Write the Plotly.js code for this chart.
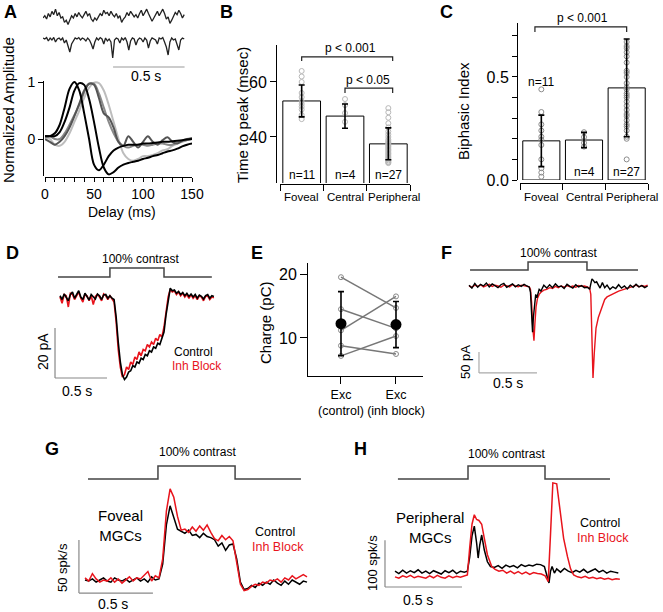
<!DOCTYPE html>
<html><head><meta charset="utf-8">
<script src="https://cdn.plot.ly/plotly-3.0.1.min.js"></script>
<style>html,body{margin:0;padding:0;background:#fff;}#chart{width:663px;height:612px;}</style>
</head><body><div id="chart"></div>
<script>
// ---------------- DATA ----------------
// Panel A: top example traces (arbitrary units)
const aTopTrace1 = [0.55,0.65,0.5,0.75,0.6,0.85,0.7,0.95,0.65,0.8,
 0.55,0.6,0.35,0.45,0.25,0.5,0.65,0.55,0.75,0.6,
 0.8,0.65,0.55,0.7,0.85,0.65,0.75,0.5,0.4,0.55,
 0.45,0.6,0.75,0.65,0.9,0.75,0.8,0.65,0.85,0.7,
 0.6,0.75,0.55,0.65,0.35,0.5,0.6,0.8,0.65,0.85,
 0.75,0.6,0.7,0.55,0.75,0.9,0.65,0.8,0.95,0.75,
 0.6,0.4,0.55,0.7,0.85,0.65,0.8,0.95,0.75,0.5,
 0.6,0.3,0.45,0.65,0.8,0.7,0.9,0.75,0.55,0.7];
const aTopTrace2 = [0,-0.05,0.02,-0.15,0,-0.1,0.03,-0.2,-0.05,0,
 -0.1,0,-0.25,-0.1,-0.4,-0.7,-0.3,-0.15,0,-0.05,
 0.02,-0.1,0,-0.05,-0.15,0,-0.1,-0.3,-0.55,-0.2,
 0,-0.1,0.02,-0.05,-0.3,0,-0.15,-0.05,-0.2,-1.0,
 -0.1,0,-0.05,-0.25,0,-0.1,0.02,-0.2,-0.6,-0.15,
 0,-0.05,-0.35,-0.1,0,-0.05,-0.2,0,-0.1,-0.5,
 -0.15,0,-0.05,-0.1,-0.3,0,-0.05,0.02,-0.2,-0.45,
 -0.85,-0.2,0,-0.1,-0.05,-0.3,-0.6,-0.1,0,-0.05];
const aTopTime = aTopTrace1.map((_, i) => i * 0.0125);

// Panel A: normalized filters
const delayMs = [0,5,10,15,20,25,30,35,40,45,50,55,60,65,70,75,80,85,90,95,100,105,110,115,120,125,130,135,140,145,150];
const filterBlack1 = [0.05,0.05,0.1,0.25,0.55,0.88,1.0,0.85,0.45,0.0,-0.45,-0.55,-0.45,-0.3,-0.2,-0.15,-0.12,-0.1,-0.1,-0.1,-0.08,-0.08,-0.07,-0.06,-0.05,-0.05,-0.04,-0.03,-0.02,-0.01,0.0];
const filterBlack2 = [0.05,0.05,0.05,0.12,0.3,0.55,0.85,0.98,0.95,0.7,0.3,-0.15,-0.5,-0.62,-0.58,-0.5,-0.45,-0.42,-0.4,-0.38,-0.35,-0.33,-0.3,-0.28,-0.25,-0.22,-0.2,-0.17,-0.13,-0.1,-0.08];
const filterDark = [0.0,-0.05,-0.1,-0.05,0.05,0.2,0.4,0.62,0.85,0.97,0.95,0.72,0.45,0.38,0.2,-0.05,-0.12,0.05,-0.05,-0.15,-0.05,0.05,-0.05,-0.1,-0.02,0.03,-0.05,-0.08,-0.03,0.0,0.02];
const filterLight = [0.02,0.0,-0.1,-0.12,-0.05,0.1,0.3,0.5,0.72,0.9,0.99,0.98,0.85,0.6,0.3,0.0,-0.25,-0.35,-0.38,-0.35,-0.3,-0.3,-0.28,-0.25,-0.2,-0.18,-0.12,-0.08,-0.05,-0.02,0.0];
const filterMid = [0.05,0.05,0.0,0.0,0.1,0.25,0.42,0.6,0.82,0.97,0.97,0.8,0.55,0.3,0.1,-0.05,-0.12,-0.15,-0.12,-0.1,-0.1,-0.12,-0.1,-0.08,-0.08,-0.1,-0.1,-0.06,-0.04,-0.02,0.0];

// Panels B & C
const cellGroups = ['Foveal', 'Central', 'Peripheral'];
const groupN = ['n=11', 'n=4', 'n=27'];
const ttpMean = [53.1, 47.6, 37.5];
const ttpSD = [5.8, 4.4, 5.8];
const ttpFoveal = [64, 62, 60, 56, 54.5, 53, 52, 51, 50, 48, 46.5];
const ttpCentral = [53.8, 51.6, 48.7, 45.5];
const ttpPeripheral = [50.5, 49, 47, 45, 43.5, 42, 41, 40, 39, 38.5, 38, 37.5, 37, 36.5, 36, 35.5, 35, 34.5, 34, 33.5, 33, 32.5, 32, 31.5, 31, 30.8, 30.5];
const biMean = [0.19, 0.194, 0.447];
const biSD = [0.125, 0.037, 0.237];
const biFoveal = [0.44, 0.33, 0.27, 0.24, 0.21, 0.195, 0.17, 0.10, 0.057, 0.036, 0.016];
const biCentral = [0.232, 0.208, 0.18, 0.162];
const biPeripheral = [0.67, 0.65, 0.64, 0.62, 0.60, 0.57, 0.53, 0.52, 0.50, 0.47, 0.45, 0.44, 0.42, 0.41, 0.40, 0.38, 0.36, 0.34, 0.32, 0.31, 0.29, 0.27, 0.26, 0.24, 0.21, 0.20, 0.10];

// Stimulus (contrast step) 0/1
const stimLevel = [0, 0, 1, 1, 0, 0];
const dStimTime = [-0.019, 0.48, 0.48, 1.0, 1.0, 1.46];
const fStimTime = [0.009, 0.509, 0.509, 1.017, 1.017, 1.457];
const gStimTime = [0.02, 0.493, 0.493, 1.014, 1.014, 1.459];
const hStimTime = [0.019, 0.474, 0.474, 0.974, 0.974, 1.396];

// Panel D: excitatory currents (pA)
const dControl = [0.5,-1.0,1.2,0.0,-1.5,1.0,2.0,-0.5,0.8,2.5, 0.0,-1.0,1.5,0.2,-1.2,1.0,0.0,-0.8,1.2,0.5, -1.0,0.8,1.0,-0.5,0.5,-0.5,
 -1,-8,-18,-26,-31,-33,-32,-30,-29.5,-27.5, -28,-26,-26.5,-24.5,-25,-23,-23.5,-21.5,-22,-20, -20.5,-18.5,-19,-16.5,-14,
 -7,-1,3.5,2.5,2.8,1.5,2.2,1.0,1.8,0.5, 1.5,0.2,1.2,0.0,1.0,-0.5,0.8,0.3,-0.8,0.6, 1.0,-0.5,0.5,0.2];
const dInhBlock = [0.0,-2.5,1.0,0.5,-4,1.5,1.0,-1.0,0.5,2.0, -0.5,-2.0,1.0,0.5,-1.5,0.5,-3,0.2,1.0,0.0, -1.5,1.2,0.5,-1.0,0.5,-1.0,
 -2,-10,-21,-28,-32,-31,-28,-29,-26,-27, -24,-25,-22,-23.5,-21,-21.5,-19,-20,-18,-19, -16.5,-17.5,-15,-16,-12,
 -6,0,3,2.0,2.5,1.0,2.0,0.5,1.5,0.0, 1.0,-0.5,1.0,-0.5,0.5,-1.0,0.5,0.0,-1.5,0.2, 0.5,-1.0,0.0,-0.3];
const dTime = dControl.map((_, i) => i * 0.02);

// Panel E: charge (pC)
const eConditions = ['Exc<br>(control)', 'Exc<br>(inh block)'];
const eControl = [19.5, 14.5, 11.2, 8.8, 7.2];
const eInhBlock = [14.7, 11.5, 16.5, 7.5, 10.3];
const eMean = [12.24, 12.1];
const eSD = [5.0, 3.6];

// Panel F: peripheral currents (pA)
const fTimeControl = [0,0.025,0.05,0.075,0.1,0.125,0.15,0.175,0.2,0.225,0.25,0.275,0.3,0.325,0.35,0.375,0.4,0.425,0.45,0.475,0.5,
 0.52,0.53,0.54,0.548,0.555,0.565,0.575,0.585,0.595,0.605,0.62,
 0.645,0.67,0.695,0.72,0.745,0.77,0.795,0.82,0.845,0.87,0.895,0.92,0.945,0.97,0.995,
 1.02,1.04,1.05,1.06,1.07,1.085,1.1,1.115,1.13,1.15,1.17,1.19,
 1.215,1.24,1.265,1.29,1.315,1.34,1.365,1.39,1.415,1.44,1.465,1.49,1.515,1.54];
const fControl = [2,-5,6,-3,4,0,7,-2,5,1,-4,3,6,-3,2,5,-2,3,-1,4,0,
 -3,-15,-60,-110,-75,-35,-20,-28,-15,-8,-12,
 2,-5,3,-4,5,-2,0,-6,4,-1,-5,3,-2,1,-4,
 -3,-8,5,17,14,8,10,3,-5,8,-4,2,
 -8,-2,-6,3,-5,0,-7,2,-3,4,-2,1,-4,0];
const fTimeInh = [0,0.025,0.05,0.075,0.1,0.125,0.15,0.175,0.2,0.225,0.25,0.275,0.3,0.325,0.35,0.375,0.4,0.425,0.45,0.475,0.5,
 0.52,0.53,0.54,0.55,0.56,0.568,0.578,0.59,0.605,0.62,
 0.645,0.67,0.695,0.72,0.745,0.77,0.795,0.82,0.845,0.87,0.895,0.92,0.945,0.97,0.995,
 1.02,1.04,1.05,1.06,1.069,1.08,1.095,1.115,1.13,1.15,1.17,1.19,
 1.215,1.24,1.265,1.29,1.315,1.34,1.365,1.39,1.415,1.44,1.465,1.49,1.515,1.54];
const fInhBlock = [0,-3,2,-1,3,-2,1,4,-1,2,0,-3,2,1,-2,3,0,-2,2,0,-1,
 -2,-8,-40,-100,-130,-90,-50,-30,-20,-15,
 -10,-8,-4,-6,-1,-4,0,-3,1,-2,0,-3,1,-1,0,
 -2,-5,-20,-120,-219,-160,-100,-75,-64,-45,-32,-26,
 -22,-20,-16,-12,-10,-8,-6,-3,-1,2,-2,1,-1,2];

// Panel G: foveal firing rate (spk/s)
const gControl = [10,9,11,8,10,12,9,8,12,10, 9,11,8,10,12,9,11,8,13,10,
 11,25,62,80,68,58,56,54,57,52, 53,50,54,51,50,48,42,45,38,43,
 44,30,8,1,2,5,3,7,5,8, 6,10,7,5,9,6,10,8,6,9, 8];
const gInhBlock = [12,9,16,11,8,10,9,12,8,11, 7,10,13,9,12,11,15,18,9,14,
 12,30,75,96,88,70,57,58,55,60, 56,61,57,62,55,49,47,52,48,51,
 47,28,6,0,1,4,6,5,8,7, 10,9,11,8,12,10,14,11,13,15, 13];
const gTime = gControl.map((_, i) => i * 0.025);

// Panel H: peripheral firing rate (spk/s)
const hTimeControl = [0,0.025,0.05,0.075,0.1,0.125,0.15,0.175,0.2,0.225,0.25,0.275,0.3,0.325,0.35,0.375,0.4,0.425,0.45,
 0.47,0.485,0.5,0.515,0.53,0.54,0.55,0.563,0.58,0.6,0.62,
 0.645,0.67,0.695,0.72,0.745,0.77,0.795,0.82,0.845,0.87,0.895,0.92,0.945,0.97,
 0.985,1.0,1.01,1.02,1.035,1.05,
 1.075,1.1,1.125,1.15,1.175,1.2,1.225,1.25,1.275,1.3,1.325,1.35,1.375,1.4,1.425,1.45];
const hControl = [40,35,42,36,41,37,43,36,40,35,41,38,34,41,37,42,35,40,38,
 40,70,115,136,100,68,95,117,85,60,50,
 48,52,46,53,49,52,47,54,50,53,51,55,54,50,
 30,15,40,50,36,45,
 38,46,40,37,42,38,44,37,41,45,38,42,36,40,38,36];
const hTimeInh = [0,0.025,0.05,0.075,0.1,0.125,0.15,0.175,0.2,0.225,0.25,0.275,0.3,0.325,0.35,0.375,0.4,0.425,0.45,
 0.47,0.485,0.5,0.515,0.53,0.545,0.563,0.58,0.6,0.628,
 0.65,0.675,0.7,0.725,0.75,0.775,0.8,0.825,0.85,0.875,0.9,0.925,0.95,0.975,
 0.995,1.01,1.025,1.05,1.07,1.095,1.12,1.14,1.16,
 1.185,1.21,1.235,1.26,1.285,1.31,1.335,1.36,1.385,1.41,1.435,1.46];
const hInhBlock = [28,25,30,27,31,26,29,27,25,30,26,31,27,25,30,26,29,27,30,
 32,90,140,160,150,148,140,110,75,50,
 44,40,42,36,40,35,39,34,38,33,37,35,34,30,
 18,120,228,226,170,110,71,45,32,
 28,26,29,25,27,24,26,23,25,22,24,23];

// ---------------- LAYOUT HELPERS ----------------
const W = 663, H = 612;
const FONT = 'Liberation Sans, Arial, Helvetica, sans-serif';
const RED = '#e8141c';
const fx = p => p / W;
const fy = p => 1 - p / H;
const dx = (a, b) => [fx(a), fx(b)];
const dy = (top, bot) => [fy(bot), fy(top)];
const hidden = (extra) => Object.assign({visible: false, showgrid: false, zeroline: false, fixedrange: true}, extra);
const axisBase = {showline: true, linecolor: '#000', linewidth: 1, ticks: 'outside', tickcolor: '#000',
  showgrid: false, zeroline: false, fixedrange: true, tickfont: {family: FONT, size: 14, color: '#000'}};
const ax = (extra) => Object.assign({}, axisBase, extra);

function ann(text, x, y, size, o) {
  o = o || {};
  return Object.assign({text: text, x: fx(x), y: fy(y), xref: 'paper', yref: 'paper', showarrow: false,
    xanchor: 'center', yanchor: 'middle', font: {family: FONT, size: size, color: o.color || '#000'}}, o.extra || {},
    o.angle !== undefined ? {textangle: o.angle} : {});
}

const traces = [];
const line = (x, y, xa, ya, color, width, shape) => ({type: 'scatter', mode: 'lines', x: x, y: y, xaxis: xa, yaxis: ya,
  line: {color: color, width: width, shape: shape || 'linear', smoothing: 0.9}, hoverinfo: 'skip'});

// Panel A
traces.push(line(aTopTime, aTopTrace1, 'x2', 'y2', '#222', 1.3));
traces.push(line(aTopTime, aTopTrace2, 'x2', 'y3', '#222', 1.3));
traces.push(line(delayMs, filterLight, 'x', 'y', '#bdbdbd', 2, 'spline'));
traces.push(line(delayMs, filterMid, 'x', 'y', '#8a8a8a', 2, 'spline'));
traces.push(line(delayMs, filterDark, 'x', 'y', '#555', 2, 'spline'));
traces.push(line(delayMs, filterBlack2, 'x', 'y', '#000', 2, 'spline'));
traces.push(line(delayMs, filterBlack1, 'x', 'y', '#000', 2, 'spline'));

// Panels B & C bars + points + error bars
function barPanel(xa, ya, means, sds, groups, ptColor) {
  traces.push({type: 'bar', x: [0, 1, 2], y: means, xaxis: xa, yaxis: ya, width: 0.87,
    marker: {color: '#fff', line: {color: '#000', width: 1}}, hoverinfo: 'skip'});
  groups.forEach((vals, i) => traces.push({type: 'scatter', mode: 'markers', x: vals.map(() => i), y: vals,
    xaxis: xa, yaxis: ya, marker: {symbol: 'circle-open', size: 5, color: ptColor, line: {width: 1}}, hoverinfo: 'skip'}));
  traces.push({type: 'scatter', mode: 'markers', x: [0, 1, 2], y: means, xaxis: xa, yaxis: ya,
    marker: {size: 1, color: 'rgba(0,0,0,0)'}, hoverinfo: 'skip',
    error_y: {type: 'data', array: sds, color: '#000', thickness: 1.6, width: 3}});
}
barPanel('x3', 'y4', ttpMean, ttpSD, [ttpFoveal, ttpCentral, ttpPeripheral], '#b8b8b8');
barPanel('x4', 'y5', biMean, biSD, [biFoveal, biCentral, biPeripheral], '#8c8c8c');

// Panel D
traces.push(line(dStimTime, stimLevel, 'x5', 'y6', '#444', 1.5));
traces.push(line(dTime, dInhBlock, 'x5', 'y7', RED, 1.6));
traces.push(line(dTime, dControl, 'x5', 'y7', '#000', 1.6));

// Panel E
eControl.forEach((v, i) => traces.push({type: 'scatter', mode: 'lines+markers', x: [0, 1], y: [v, eInhBlock[i]],
  xaxis: 'x6', yaxis: 'y9', line: {color: '#777', width: 1.5},
  marker: {symbol: 'circle-open', size: 5, color: '#888', line: {width: 1}}, hoverinfo: 'skip'}));
traces.push({type: 'scatter', mode: 'markers', x: [0, 1], y: eMean, xaxis: 'x6', yaxis: 'y9',
  marker: {size: 11, color: '#000'}, hoverinfo: 'skip',
  error_y: {type: 'data', array: eSD, color: '#000', thickness: 1.6, width: 3}});

// Panel F
traces.push(line(fStimTime, stimLevel, 'x7', 'y11', '#444', 1.5));
traces.push(line(fTimeInh, fInhBlock, 'x7', 'y10', RED, 1.4));
traces.push(line(fTimeControl, fControl, 'x7', 'y10', '#000', 1.4));

// Panel G
traces.push(line(gStimTime, stimLevel, 'x8', 'y13', '#444', 1.5));
traces.push(line(gTime, gControl, 'x8', 'y12', '#000', 1.5));
traces.push(line(gTime, gInhBlock, 'x8', 'y12', RED, 1.5));

// Panel H
traces.push(line(hStimTime, stimLevel, 'x9', 'y15', '#444', 1.5));
traces.push(line(hTimeControl, hControl, 'x9', 'y14', '#000', 1.5));
traces.push(line(hTimeInh, hInhBlock, 'x9', 'y14', RED, 1.5));

// ---------------- AXES ----------------
const layout = {
  width: W, height: H, margin: {l: 0, r: 0, t: 0, b: 0}, paper_bgcolor: '#fff', plot_bgcolor: 'rgba(0,0,0,0)',
  showlegend: false, hovermode: false, font: {family: FONT, color: '#000'},
  // A
  xaxis: ax({domain: dx(45, 192), range: [0, 150], anchor: 'free', position: fy(177), ticklen: 4,
    tickvals: delayMs.filter(v => v % 10 === 0), ticktext: delayMs.filter(v => v % 10 === 0).map(v => v % 50 === 0 ? String(v) : '')}),
  yaxis: ax({domain: dy(81, 176), range: [-0.649, 1.0175], anchor: 'free', position: fx(43), ticklen: 5, tickvals: [0, 1]}),
  xaxis2: hidden({domain: dx(43, 186), range: [0, 1.0], anchor: 'y2'}),
  yaxis2: hidden({domain: dy(5, 32), range: [-0.09, 1.14], anchor: 'x2'}),
  yaxis3: hidden({domain: dy(33, 72), range: [-1.7, 0.25], anchor: 'x2'}),
  // B
  xaxis3: ax({domain: dx(280, 410), range: [-0.5, 2.5], anchor: 'free', position: fy(184), ticklen: 6,
    tickvals: [-0.5, 0.5, 1.5, 2.5], showticklabels: false}),
  yaxis4: ax({domain: dy(45, 183), range: [23.27, 73.45], anchor: 'free', position: fx(276), ticklen: 6,
    tickvals: [40, 60], tickfont: {family: FONT, size: 16, color: '#000'}}),
  // C
  xaxis4: ax({domain: dx(520, 648), range: [-0.5, 2.5], anchor: 'free', position: fy(183), ticklen: 6,
    tickvals: [-0.5, 0.5, 1.5, 2.5], showticklabels: false}),
  yaxis5: ax({domain: dy(23, 180), range: [0, 0.762], anchor: 'free', position: fx(517), ticklen: 5,
    tickvals: [0, 0.1, 0.2, 0.3, 0.4, 0.5, 0.6, 0.7], ticktext: ['0.0', '', '', '', '', '0.5', '', ''],
    tickfont: {family: FONT, size: 16, color: '#000'}}),
  // D
  xaxis5: hidden({domain: dx(40, 225), range: [-0.1923, 1.5865], anchor: 'y7'}),
  yaxis6: hidden({domain: dy(264, 281), range: [-0.44, 1.44], anchor: 'x5'}),
  yaxis7: hidden({domain: dy(285, 392), range: [-38, 4.8], anchor: 'x5'}),
  // E
  xaxis6: ax({domain: dx(307, 423), range: [-0.618, 1.491], anchor: 'free', position: fy(376), ticklen: 7,
    tickangle: 0, tickvals: [0, 1], ticktext: eConditions, tickfont: {family: FONT, size: 12.5, color: '#000'}}),
  yaxis9: ax({domain: dy(263, 376), range: [4.06, 21.72], anchor: 'free', position: fx(307), ticklen: 7,
    tickvals: [10, 20], tickfont: {family: FONT, size: 16, color: '#000'}}),
  // F
  xaxis7: hidden({domain: dx(460, 652), range: [-0.0776, 1.5776], anchor: 'y10'}),
  yaxis10: hidden({domain: dy(272, 382), range: [-228.6, 33.3], anchor: 'x7'}),
  yaxis11: hidden({domain: dy(258, 274), range: [-0.5, 1.5], anchor: 'x7'}),
  // G
  xaxis8: hidden({domain: dx(72, 315), range: [-0.0878, 1.554], anchor: 'y12'}),
  yaxis12: hidden({domain: dy(485, 597), range: [-6.04, 99.62], anchor: 'x8'}),
  yaxis13: hidden({domain: dy(462, 483), range: [-0.308, 1.308], anchor: 'x8'}),
  // H
  xaxis9: hidden({domain: dx(380, 625), range: [-0.0974, 1.4935], anchor: 'y14'}),
  yaxis14: hidden({domain: dy(478, 592), range: [-4.26, 238.3], anchor: 'x9'}),
  yaxis15: hidden({domain: dy(462, 483), range: [-0.308, 1.308], anchor: 'x9'}),
  shapes: [], annotations: []
};

// ---------------- SHAPES (scale bars, brackets) ----------------
const seg = (xref, yref, x0, y0, x1, y1, color) => ({type: 'line', xref: xref, yref: yref, x0: x0, y0: y0, x1: x1, y1: y1,
  line: {color: color || '#888', width: 1.2}});
layout.shapes.push(seg('x2', 'y3', 0.49, -1.45, 0.99, -1.45, '#999'));
layout.shapes.push(seg('x5', 'y7', -0.048, -12.4, -0.048, -32.4));
layout.shapes.push(seg('x5', 'y7', -0.048, -32.4, 0.452, -32.4));
layout.shapes.push(seg('x7', 'y10', 0.086, -157, 0.086, -207, '#aaa'));
layout.shapes.push(seg('x7', 'y10', 0.086, -207, 0.586, -207, '#aaa'));
layout.shapes.push(seg('x8', 'y12', -0.041, 47.7, -0.041, -2.3));
layout.shapes.push(seg('x8', 'y12', -0.041, -2.3, 0.459, -2.3));
layout.shapes.push(seg('x9', 'y14', -0.065, 106, -0.065, 6.4));
layout.shapes.push(seg('x9', 'y14', -0.065, 6.4, 0.435, 6.4));
const bracket = (xref, yref, a, b, yTop, yLow) => ({type: 'path', xref: xref, yref: yref,
  path: `M ${a},${yLow} L ${a},${yTop} L ${b},${yTop} L ${b},${yLow}`, line: {color: '#222', width: 1.2}});
layout.shapes.push(bracket('x3', 'y4', 0, 2.1, 69.1, 67.6));
layout.shapes.push(bracket('x3', 'y4', 1, 2.1, 57.8, 56.0));
layout.shapes.push(bracket('x4', 'y5', -0.15, 2.0, 0.743, 0.718));

// ---------------- ANNOTATIONS ----------------
const A = layout.annotations;
[['A', 10, 12], ['B', 226, 12], ['C', 446, 12], ['D', 12, 253], ['E', 257, 253], ['F', 446, 253], ['G', 52, 449], ['H', 360, 449]]
  .forEach(p => A.push(Object.assign(ann('<b>' + p[0] + '</b>', p[1], p[2], 18))));
// A
A.push(ann('Normalized Amplitude', 8, 110, 15, {angle: -90}));
A.push(ann('Delay (ms)', 122, 212, 14));
A.push(ann('0.5 s', 146, 76, 14));
// B
A.push(ann('Time to peak (msec)', 242, 115, 15, {angle: -90}));
A.push(ann('p &lt; 0.001', 350, 48, 12));
A.push(ann('p &lt; 0.05', 368, 80, 12));
const labelShift = [0, 0, 0.12];
cellGroups.forEach((g, i) => A.push(Object.assign(ann(g, 0, 197, 11.5), {xref: 'x3', x: i + labelShift[i]})));
groupN.forEach((n, i) => A.push(Object.assign(ann(n, 0, 175, 12), {xref: 'x3', x: i})));
// C
A.push(ann('Biphasic Index', 463, 111, 15, {angle: -90}));
A.push(ann('p &lt; 0.001', 582, 18, 12));
cellGroups.forEach((g, i) => A.push(Object.assign(ann(g, 0, 197, 11.5), {xref: 'x4', x: i + labelShift[i]})));
groupN.forEach((n, i) => A.push(Object.assign(ann(n, 0, i === 0 ? 82 : 172, 12), {xref: 'x4', x: i})));
// D
A.push(ann('100% contrast', 140, 259, 12));
A.push(ann('20 pA', 43, 352, 14, {angle: -90}));
A.push(ann('0.5 s', 77, 391, 14));
A.push(ann('Control', 193, 352, 12));
A.push(ann('Inh Block', 197, 366, 12, {color: RED}));
// E
A.push(ann('Charge (pC)', 265, 323, 15, {angle: -90}));
// F
A.push(ann('100% contrast', 558, 253, 12));
A.push(ann('50 pA', 465, 362, 13, {angle: -90}));
A.push(ann('0.5 s', 508, 383, 14));
// G
A.push(ann('100% contrast', 197, 452, 12));
A.push(ann('Foveal<br>MGCs', 120, 525, 15));
A.push(ann('Control', 275, 532, 12.5));
A.push(ann('Inh Block', 278, 547, 12.5, {color: RED}));
A.push(ann('50 spk/s', 62, 568, 13, {angle: -90}));
A.push(ann('0.5 s', 113, 604, 14));
// H
A.push(ann('100% contrast', 507, 454, 12));
A.push(ann('Peripheral<br>MGCs', 430, 527, 15));
A.push(ann('Control', 600, 523, 12.5));
A.push(ann('Inh Block', 603, 538, 12.5, {color: RED}));
A.push(ann('100 spk/s', 372, 563, 13, {angle: -90}));
A.push(ann('0.5 s', 418, 600, 14));

Plotly.newPlot('chart', traces, layout, {displayModeBar: false, staticPlot: true});
</script>
</body></html>
